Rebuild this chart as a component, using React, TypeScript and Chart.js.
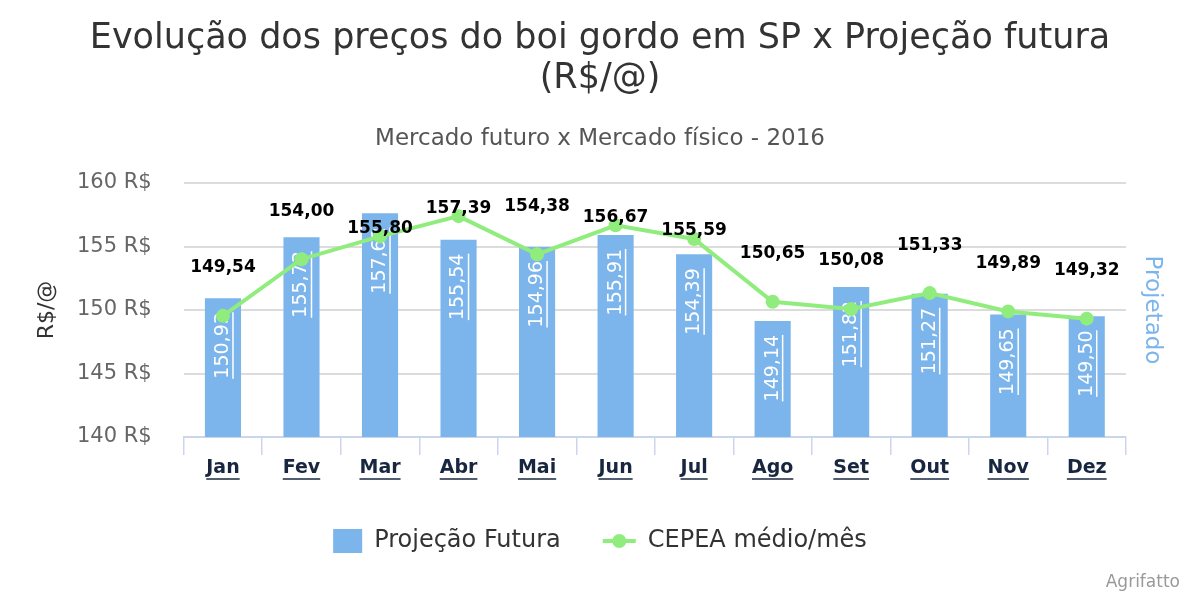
import React, { useEffect, useRef } from "react";
import { Chart, registerables } from "chart.js";

Chart.register(...registerables);

const months = ["Jan", "Fev", "Mar", "Abr", "Mai", "Jun", "Jul", "Ago", "Set", "Out", "Nov", "Dez"];
const projecaoFutura = [150.93, 155.73, 157.62, 155.54, 154.96, 155.91, 154.39, 149.14, 151.82, 151.27, 149.65, 149.5];
const cepeaMedio = [149.54, 154.0, 155.8, 157.39, 154.38, 156.67, 155.59, 150.65, 150.08, 151.33, 149.89, 149.32];
const yTicks = [140, 145, 150, 155, 160];

const FONT = "'DejaVu Sans', sans-serif";
const BAR_COLOR = "#7cb5ec";
const LINE_COLOR = "#90ed7d";
const XLABEL_COLOR = "#18273f";

const fmt = (v: number) => v.toFixed(2).replace(".", ",");

const labelsPlugin = {
  id: "customLabels",
  afterDatasetDraw(chart: any, args: any) {
    if (args.index !== 0) return;
    const ctx = chart.ctx;
    const meta = chart.getDatasetMeta(0);
    ctx.save();
    ctx.font = `19px ${FONT}`;
    ctx.fillStyle = "#ffffff";
    ctx.strokeStyle = "#ffffff";
    ctx.lineWidth = 1.5;
    meta.data.forEach((el: any, i: number) => {
      const txt = fmt(projecaoFutura[i]);
      const w = ctx.measureText(txt).width;
      ctx.save();
      ctx.translate(el.x, el.y + 14);
      ctx.rotate(-Math.PI / 2);
      ctx.textAlign = "right";
      ctx.textBaseline = "middle";
      ctx.fillText(txt, 0, 0);
      ctx.beginPath();
      ctx.moveTo(-w, 10);
      ctx.lineTo(0, 10);
      ctx.stroke();
      ctx.restore();
    });
    ctx.restore();
  },
  afterDatasetsDraw(chart: any) {
    const ctx = chart.ctx;
    const meta = chart.getDatasetMeta(1);
    const top = chart.chartArea.top;
    ctx.save();
    ctx.font = `bold 17px ${FONT}`;
    ctx.fillStyle = "#000000";
    ctx.textAlign = "center";
    ctx.textBaseline = "middle";
    meta.data.forEach((el: any, i: number) => {
      let y = el.y - 48;
      if (y - 12 < top) y = el.y - 8;
      ctx.fillText(fmt(cepeaMedio[i]), el.x, y);
    });
    ctx.restore();
  },
  afterDraw(chart: any) {
    const ctx = chart.ctx;
    // underline x labels
    const xs = chart.scales.x;
    ctx.save();
    ctx.font = `bold 19px ${FONT}`;
    ctx.strokeStyle = XLABEL_COLOR;
    ctx.lineWidth = 1.5;
    months.forEach((m, i) => {
      const x = xs.getPixelForTick(i);
      const w = ctx.measureText(m).width;
      ctx.beginPath();
      ctx.moveTo(x - w / 2, 479);
      ctx.lineTo(x + w / 2, 479);
      ctx.stroke();
    });
    ctx.restore();

    // legend
    ctx.save();
    ctx.font = `24px ${FONT}`;
    ctx.textBaseline = "middle";
    const ds = chart.data.datasets;
    const t1 = ds[0].label;
    const t2 = ds[1].label;
    const w1 = ctx.measureText(t1).width;
    const w2 = ctx.measureText(t2).width;
    const boxW = 29;
    const gap = 12;
    const itemGap = 42;
    const lineW = 33;
    const total = boxW + gap + w1 + itemGap + lineW + gap + w2;
    let x = chart.width / 2 - total / 2;
    const cy = 541;
    ctx.fillStyle = ds[0].backgroundColor;
    ctx.fillRect(x, cy - 12, boxW, 24);
    x += boxW + gap;
    ctx.fillStyle = "#333333";
    ctx.fillText(t1, x, cy);
    x += w1 + itemGap;
    ctx.strokeStyle = ds[1].borderColor;
    ctx.lineWidth = 4;
    ctx.beginPath();
    ctx.moveTo(x, cy);
    ctx.lineTo(x + lineW, cy);
    ctx.stroke();
    ctx.fillStyle = ds[1].borderColor;
    ctx.beginPath();
    ctx.arc(x + lineW / 2, cy, 7, 0, Math.PI * 2);
    ctx.fill();
    x += lineW + gap;
    ctx.fillStyle = "#333333";
    ctx.fillText(t2, x, cy);

    // credits
    ctx.font = `17px ${FONT}`;
    ctx.fillStyle = "#999999";
    ctx.textAlign = "right";
    ctx.fillText("Agrifatto", 1180, 583);
    ctx.restore();
  },
};

export default function App() {
  const ref = useRef<HTMLCanvasElement | null>(null);
  useEffect(() => {
    document.body.style.margin = "0";
    if (!ref.current) return;
    const chart = new Chart(ref.current, {
      type: "bar",
      data: {
        labels: months,
        datasets: [
          {
            type: "bar",
            label: "Projeção Futura",
            data: projecaoFutura,
            backgroundColor: BAR_COLOR,
            categoryPercentage: 1,
            barPercentage: 0.46,
            order: 2,
            yAxisID: "y",
          },
          {
            type: "line",
            label: "CEPEA médio/mês",
            data: cepeaMedio,
            borderColor: LINE_COLOR,
            backgroundColor: LINE_COLOR,
            borderWidth: 4,
            pointRadius: 7,
            pointHoverRadius: 7,
            pointBackgroundColor: LINE_COLOR,
            pointBorderWidth: 0,
            tension: 0,
            order: 1,
            yAxisID: "y",
          },
        ],
      },
      options: {
        animation: false,
        responsive: false,
        layout: { padding: { left: 35, right: 35, top: 0, bottom: 119 } },
        plugins: {
          legend: { display: false },
          tooltip: { enabled: false },
          title: {
            display: true,
            text: ["Evolução dos preços do boi gordo em SP x Projeção futura", "(R$/@)"],
            color: "#333333",
            font: { family: FONT, size: 35, weight: "normal", lineHeight: "40px" },
            padding: { top: 19, bottom: 28 },
          },
          subtitle: {
            display: true,
            text: "Mercado futuro x Mercado físico - 2016",
            color: "#555555",
            font: { family: FONT, size: 23, weight: "normal", lineHeight: "24px" },
            padding: { top: 0, bottom: 32 },
          },
        },
        scales: {
          x: {
            offset: true,
            grid: {
              display: true,
              drawOnChartArea: false,
              drawTicks: true,
              tickLength: 18,
              color: "#ccd6eb",
              lineWidth: 1.5,
            },
            border: { display: true, color: "#ccd6eb", width: 2 },
            ticks: {
              color: XLABEL_COLOR,
              font: { family: FONT, size: 19, weight: "bold", lineHeight: "22px" },
              padding: 2,
            },
          },
          y: {
            position: "left",
            min: 140,
            max: 160,
            afterBuildTicks: (scale: any) => {
              scale.ticks = yTicks.map((v) => ({ value: v }));
            },
            grid: { color: "#dcdcdc", lineWidth: 2, drawTicks: false },
            border: { display: false },
            ticks: {
              color: "#666666",
              font: { family: FONT, size: 21 },
              padding: 32,
              callback: (v: any) => `${v} R$`,
            },
            title: {
              display: true,
              text: "R$/@",
              color: "#333333",
              font: { family: FONT, size: 22, lineHeight: "24px" },
              padding: { top: 0, bottom: -14 },
            },
          },
          y1: {
            position: "right",
            min: 140,
            max: 160,
            grid: { display: false, drawTicks: false },
            border: { display: false },
            ticks: { display: false },
            title: {
              display: true,
              text: "Projetado",
              color: BAR_COLOR,
              font: { family: FONT, size: 23, lineHeight: "26px" },
              padding: { top: 0, bottom: 13 },
            },
          },
        },
      },
      plugins: [labelsPlugin],
    } as any);
    return () => chart.destroy();
  }, []);
  return (
    <div style={{ width: 1200, height: 600 }}>
      <canvas ref={ref} width={1200} height={600} style={{ display: "block" }} />
    </div>
  );
}
